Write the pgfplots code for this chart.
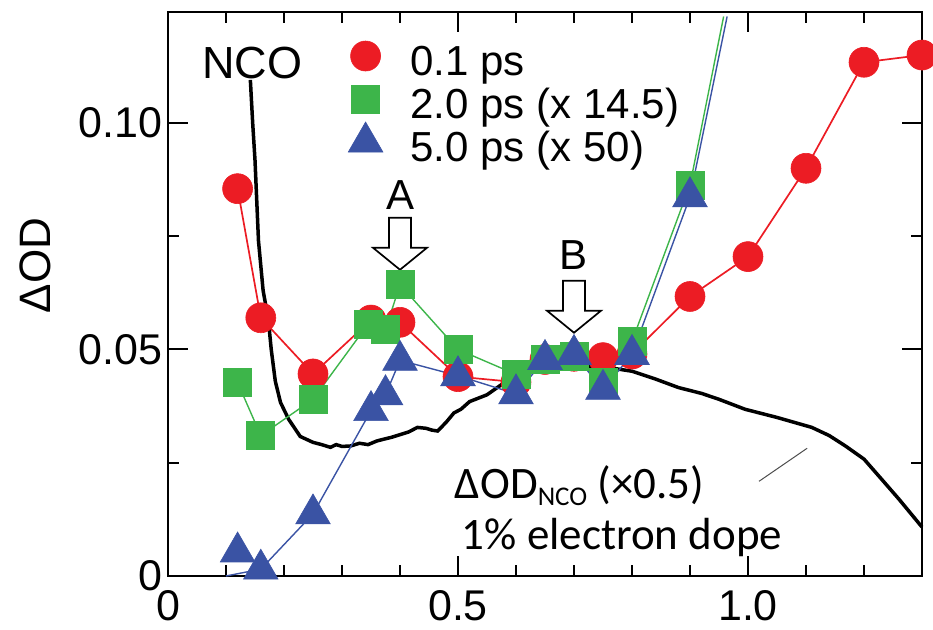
\documentclass[border=0pt]{standalone}
\usepackage{pgfplots}
\pgfplotsset{compat=1.18}
\usepackage{fontspec}
\setmainfont{Liberation Sans}
\newfontfamily\carlito{Carlito}
\definecolor{myred}{RGB}{236,28,36}
\definecolor{mygreen}{RGB}{61,181,74}
\definecolor{myblue}{RGB}{58,83,164}
\begin{document}
\begin{tikzpicture}
\begin{axis}[
  scale only axis, width=377pt, height=282pt,
  xmin=0, xmax=1.3, ymin=0, ymax=0.1245,
  clip=false,
  axis line style={line width=1pt},
  xtick={0,0.5,1.0}, xticklabels={0,0.5,1.0},
  minor xtick={0.1,0.2,0.3,0.4,0.6,0.7,0.8,0.9,1.1,1.2},
  ytick={0,0.05,0.10}, yticklabels={0,0.05,0.10},
  minor ytick={0.025,0.075},
  tick align=inside,
  major tick length=10pt, minor tick length=5.5pt,
  every tick/.style={black, line width=1pt},
  ticklabel style={font=\fontsize{21.5}{24}\selectfont},
  xticklabel style={inner sep=0pt, yshift=-7pt},
  yticklabel style={inner sep=0pt, xshift=-2.75pt},
  legend style={at={(axis cs:0.3131,0.1171)}, anchor=north west, draw=none, fill=none,
    inner sep=0pt, outer sep=0pt, row sep=0pt, column sep=14.5pt,
    font=\fontsize{21}{24}\selectfont,
    nodes={inner sep=0pt, text height=15pt, text depth=6.5pt}},
  legend cell align=left,
  legend image code/.code={%
    \begin{pgfinterruptboundingbox}
    \draw[#1,only marks] plot coordinates {(8pt,5.5pt)};
    \end{pgfinterruptboundingbox}
    \path[draw=none,fill=none] (0pt,0pt) (16pt,1pt);
  },
]
\coordinate (bl) at (rel axis cs:0,0);
\coordinate (tr) at (rel axis cs:1,1);

% 0.1 ps (red)
\addplot[color=myred, line width=0.85pt, mark=*, mark size=7.5pt,
  mark options={fill=myred, draw=myred, line width=0.3pt}] coordinates {
(0.12,0.0855) (0.16,0.0570) (0.25,0.0446) (0.35,0.0565) (0.40,0.0560)
(0.50,0.0440) (0.60,0.0428) (0.65,0.0478) (0.70,0.0485) (0.75,0.0482)
(0.80,0.0490) (0.90,0.0617) (1.00,0.0705) (1.10,0.0900) (1.20,0.1134)
(1.30,0.1150)};
\addlegendentry{0.1 ps}

% NCO black curve
\addplot[black, line width=1.75pt, forget plot] coordinates {
(0.142,0.1095) (0.146,0.1000) (0.150,0.0918) (0.156,0.0740) (0.164,0.0630)
(0.173,0.0566) (0.178,0.0500) (0.185,0.0430) (0.194,0.0383) (0.208,0.0346)
(0.228,0.0308) (0.250,0.0295) (0.265,0.0290) (0.280,0.0284) (0.290,0.0290)
(0.300,0.0286) (0.315,0.0287) (0.330,0.0293) (0.345,0.0290) (0.360,0.0298)
(0.372,0.0302) (0.385,0.0306) (0.400,0.0312) (0.415,0.0318) (0.430,0.0328)
(0.445,0.0326) (0.455,0.0322) (0.465,0.0320) (0.480,0.0340) (0.493,0.0360)
(0.505,0.0368) (0.520,0.0385) (0.550,0.0400) (0.580,0.0427) (0.620,0.0450)
(0.700,0.0462) (0.750,0.0462) (0.800,0.0452) (0.840,0.0435) (0.880,0.0416)
(0.920,0.0403) (0.950,0.0390) (0.995,0.0368) (1.050,0.0350) (1.110,0.0328)
(1.140,0.0310) (1.168,0.0287) (1.200,0.0258) (1.226,0.0220) (1.260,0.0170)
(1.300,0.0108)};

% 2.0 ps (green)
\addplot[color=mygreen, line width=0.7pt, forget plot] coordinates {
(0.12,0.0427) (0.16,0.0310) (0.25,0.0390) (0.345,0.0556) (0.375,0.0544)
(0.40,0.0643) (0.50,0.0500) (0.60,0.0445) (0.65,0.0478) (0.70,0.0485)
(0.75,0.0427) (0.80,0.0518) (0.90,0.0863) (0.958,0.1235)};
\addplot[only marks, mark=square*, mark size=7pt,
  mark options={fill=mygreen, draw=mygreen, line width=0.3pt}] coordinates {
(0.12,0.0427) (0.16,0.0310) (0.25,0.0390) (0.345,0.0556) (0.375,0.0544)
(0.40,0.0643) (0.50,0.0500) (0.60,0.0445) (0.65,0.0478) (0.70,0.0485)
(0.75,0.0427) (0.80,0.0518) (0.90,0.0863)};
\addlegendentry{2.0 ps (x 14.5)}

% 5.0 ps (blue)
\addplot[color=myblue, line width=0.7pt, forget plot] coordinates {
(0.10,0.0000) (0.16,0.0015) (0.25,0.0137) (0.35,0.0365) (0.375,0.0400)
(0.40,0.0476) (0.50,0.0442) (0.60,0.0402) (0.65,0.0478) (0.70,0.0489)
(0.75,0.0412) (0.80,0.0489) (0.90,0.0837) (0.964,0.1235)};
\addplot[only marks, mark=triangle*, mark size=10pt,
  mark options={fill=myblue, draw=myblue, line width=0.3pt}] coordinates {
(0.12,0.0053) (0.16,0.0015) (0.25,0.0137) (0.35,0.0365) (0.375,0.0400)
(0.40,0.0476) (0.50,0.0442) (0.60,0.0402) (0.65,0.0478) (0.70,0.0489)
(0.75,0.0412) (0.80,0.0489) (0.90,0.0837)};
\addlegendentry{5.0 ps (x 50)}

% annotations
\draw[black, line width=0.85pt, fill=white, line join=miter]
  (axis cs:0.40,0.0676) -- ++(13.5pt,11pt) -- ++(-8pt,0pt) -- ++(0pt,15pt) -- ++(-11pt,0pt)
  -- ++(0pt,-15pt) -- ++(-8pt,0pt) -- cycle;
\draw[black, line width=0.85pt, fill=white, line join=miter]
  (axis cs:0.70,0.0537) -- ++(13.5pt,11pt) -- ++(-8pt,0pt) -- ++(0pt,15pt) -- ++(-11pt,0pt)
  -- ++(0pt,-15pt) -- ++(-8pt,0pt) -- cycle;
\node[font=\fontsize{21}{24}\selectfont, inner sep=0pt] at (axis cs:0.401,0.0841) {A};
\node[font=\fontsize{21}{24}\selectfont, inner sep=0pt] at (axis cs:0.700,0.0709) {B};
\node[font=\fontsize{22.5}{26}\selectfont, inner sep=0pt] at (axis cs:0.145,0.1132) {NCO};
\node[rotate=90, font=\fontsize{22}{26}\selectfont, inner sep=0pt] at ([xshift=-66.5pt]rel axis cs:0,0.5505) {ΔOD};
\node[anchor=base west, inner sep=0pt, font=\carlito\fontsize{22.5}{26}\selectfont] at (axis cs:0.4940,0.0170)
  {ΔOD\raisebox{-3.5pt}{\fontsize{13.5}{14}\selectfont NCO}\ (×0.5)};
\node[anchor=base west, inner sep=0pt, font=\carlito\fontsize{22.5}{26}\selectfont] at (axis cs:0.5060,0.0059)
  {1\% electron dope};
\draw[black!70, line width=0.5pt] (axis cs:1.019,0.0209) -- (axis cs:1.102,0.0282);
\end{axis}
\pgfresetboundingbox
\path ([xshift=-84pt,yshift=-27pt]bl) rectangle ([xshift=5.5pt,yshift=6pt]tr);
\end{tikzpicture}
\end{document}
